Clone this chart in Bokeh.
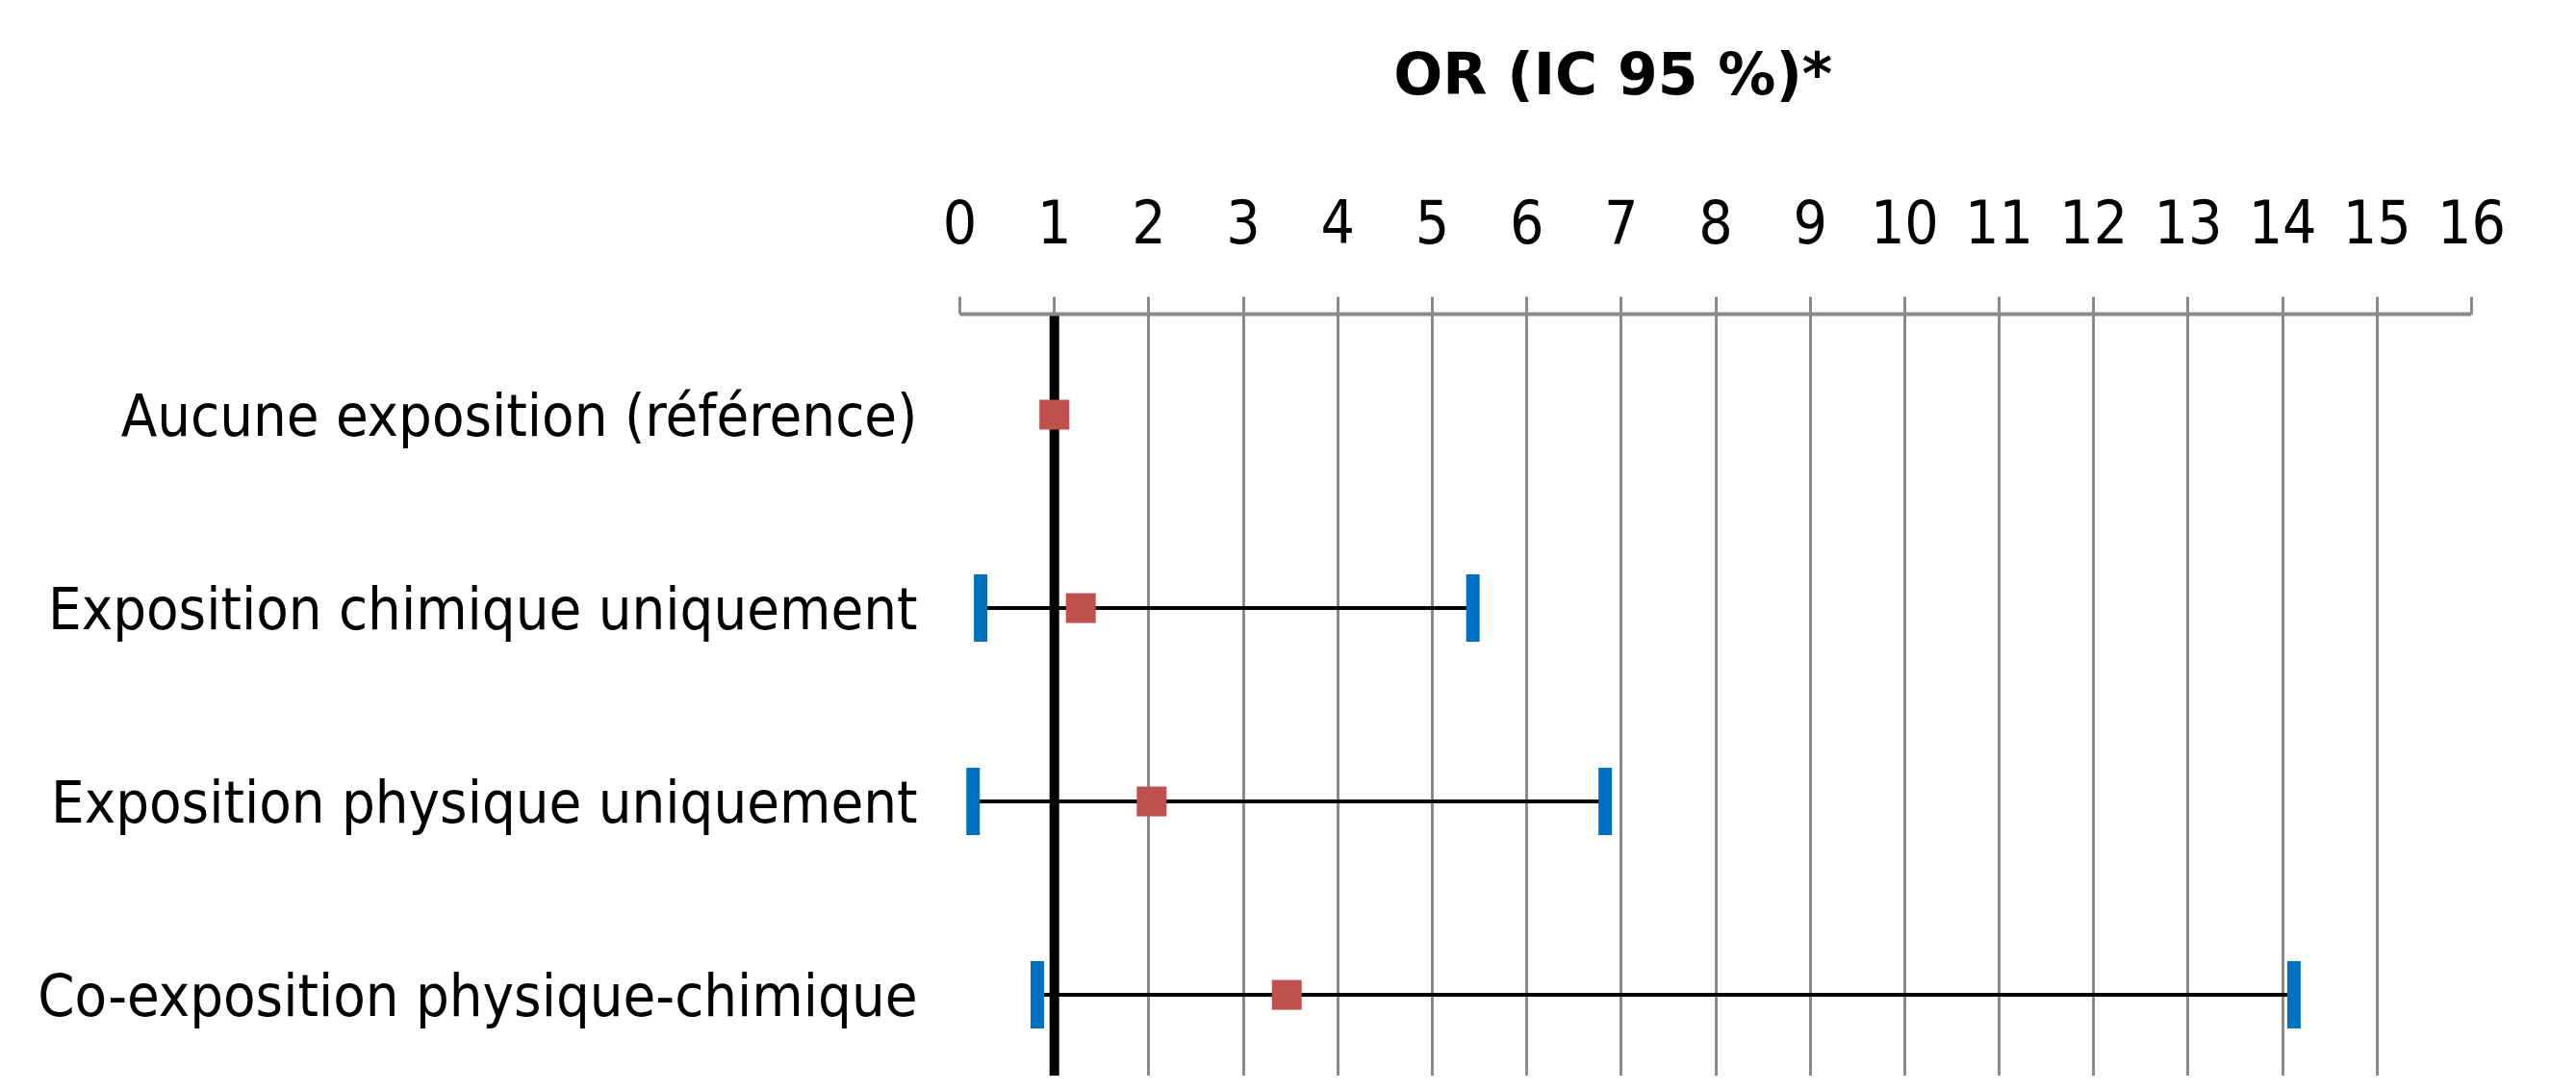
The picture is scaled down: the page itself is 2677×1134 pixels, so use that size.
from bokeh.plotting import figure
from bokeh.layouts import column
from bokeh.models import FixedTicker, Span, Range1d
from bokeh.core.properties import value
from bokeh.embed import file_html
from bokeh.resources import INLINE

# ---- data ----
categories = [
    "Aucune exposition (référence)",
    "Exposition chimique uniquement",
    "Exposition physique uniquement",
    "Co-exposition physique-chimique",
]
or_values = [1.0, 1.28, 2.03, 3.46]
ci_categories = categories[1:]
ci_low = [0.22, 0.14, 0.82]
ci_high = [5.43, 6.83, 14.12]
x_ticks = list(range(0, 17))
reference_value = 1
title_text = "OR (IC 95 %)*"

FONT = "DejaVu Sans Condensed"
GRID = "#8A8A8A"

# row positions (index of each category, top to bottom)
row = {c: i for i, c in enumerate(categories)}
y_or = [row[c] for c in categories]
y_ci = [row[c] for c in ci_categories]

W = 2661
TITLE_H = 160

x_range = Range1d(0, 16)

# ---- title strip ----
tf = figure(
    width=W, height=TITLE_H,
    x_range=x_range, y_range=Range1d(0, 1),
    output_backend="svg", toolbar_location=None,
    min_border_left=997, min_border_right=93,
    min_border_top=0, min_border_bottom=0,
)
tf.axis.visible = False
tf.grid.visible = False
tf.outline_line_color = None
tf.text(x=[4.59], y=[0.52], text=[title_text],
        text_font=value("DejaVu Sans"), text_font_size="60px",
        text_font_style="bold", text_color="black",
        text_align="left", text_baseline="middle")

# ---- main chart ----
p = figure(
    width=W, height=1118 - TITLE_H,
    x_range=x_range,
    y_range=Range1d(start=3.42, end=-0.52),
    x_axis_location="above",
    output_backend="svg", toolbar_location=None,
    min_border_left=997, min_border_right=93,
    min_border_top=326 - TITLE_H, min_border_bottom=0,
    title=None,
)
p.outline_line_color = None
p.background_fill_color = "white"
p.border_fill_color = "white"

# grid
p.xgrid.ticker = FixedTicker(ticks=x_ticks)
p.xgrid.grid_line_color = GRID
p.xgrid.grid_line_width = 3
p.ygrid.grid_line_color = None

# top axis
xa = p.xaxis[0]
xa.ticker = FixedTicker(ticks=x_ticks)
xa.axis_line_color = GRID
xa.axis_line_width = 4
xa.major_tick_line_color = GRID
xa.major_tick_line_width = 3
xa.major_tick_out = 18
xa.major_tick_in = 0
xa.minor_tick_line_color = None
xa.major_label_text_font = FONT
xa.major_label_text_font_size = "62px"
xa.major_label_text_color = "black"
xa.major_label_standoff = 56

# left axis (category labels)
ya = p.yaxis[0]
ya.ticker = FixedTicker(ticks=list(range(len(categories))))
ya.major_label_overrides = {i: c for i, c in enumerate(categories)}
ya.axis_line_color = None
ya.major_tick_line_color = None
ya.major_tick_out = 0
ya.major_tick_in = 0
ya.minor_tick_line_color = None
ya.major_label_text_font = FONT
ya.major_label_text_font_size = "61px"
ya.major_label_text_color = "black"
ya.major_label_standoff = 44

# reference line at OR = 1
ref = Span(location=reference_value, dimension="height", line_color="black",
           line_width=10, level="underlay")
p.add_layout(ref)

# CI segments
p.segment(x0=ci_low, y0=y_ci, x1=ci_high, y1=y_ci,
          line_color="black", line_width=4)
# CI caps
p.rect(x=ci_low, y=y_ci, width=14, height=70,
       width_units="screen", height_units="screen",
       fill_color="#0070C0", line_color=None)
p.rect(x=ci_high, y=y_ci, width=14, height=70,
       width_units="screen", height_units="screen",
       fill_color="#0070C0", line_color=None)
# OR points
p.scatter(x=or_values, y=y_or, marker="square", size=31,
          fill_color="#C0504D", line_color=None)

layout = column(tf, p, spacing=0)
open("out.html", "w").write(file_html(layout, INLINE))
